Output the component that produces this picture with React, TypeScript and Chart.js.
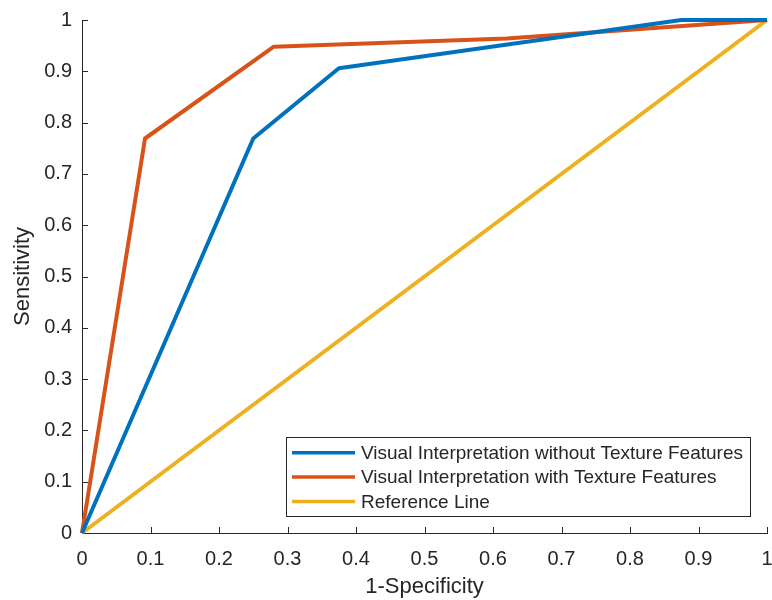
import React, { useEffect, useRef } from "react";
import { Chart, registerables } from "chart.js";

Chart.register(...registerables);

const seriesLabels = [
  "Visual Interpretation without Texture Features",
  "Visual Interpretation with Texture Features",
  "Reference Line",
];
const seriesColors = ["#0072BD", "#D95319", "#EDB120"];

const withoutX = [0, 0.25, 0.375, 0.875, 1];
const withoutY = [0, 0.769, 0.906, 1, 1];
const withX = [0, 0.092, 0.28, 0.62, 1];
const withY = [0, 0.769, 0.948, 0.964, 1];
const refX = [0, 1];
const refY = [0, 1];

const xTickValues = [0, 0.1, 0.2, 0.3, 0.4, 0.5, 0.6, 0.7, 0.8, 0.9, 1];
const xTickLabels = ["0", "0.1", "0.2", "0.3", "0.4", "0.5", "0.6", "0.7", "0.8", "0.9", "1"];
const yTickValues = [0, 0.1, 0.2, 0.3, 0.4, 0.5, 0.6, 0.7, 0.8, 0.9, 1];
const yTickLabels = ["0", "0.1", "0.2", "0.3", "0.4", "0.5", "0.6", "0.7", "0.8", "0.9", "1"];

const xTitle = "1-Specificity";
const yTitle = "Sensitivity";

const FONT = "'Liberation Sans', Arial, Helvetica, sans-serif";
const TEXT = "#262626";

const toPoints = (xs: number[], ys: number[]) => xs.map((x, i) => ({ x, y: ys[i] }));

const tickMarks = {
  id: "tickMarks",
  beforeDatasetsDraw(chart: any) {
    const { ctx, chartArea, scales } = chart;
    const len = 6;
    ctx.save();
    ctx.strokeStyle = TEXT;
    ctx.lineWidth = 1;
    ctx.beginPath();
    scales.x.ticks.forEach((t: any) => {
      const px = Math.round(scales.x.getPixelForValue(t.value)) + 0.5;
      ctx.moveTo(px, chartArea.bottom);
      ctx.lineTo(px, chartArea.bottom - len);
    });
    scales.y.ticks.forEach((t: any) => {
      const py = Math.round(scales.y.getPixelForValue(t.value)) + 0.5;
      ctx.moveTo(chartArea.left, py);
      ctx.lineTo(chartArea.left + len, py);
    });
    ctx.stroke();
    ctx.restore();
  },
};

const boxLegend = {
  id: "boxLegend",
  afterDraw(chart: any) {
    const { ctx, chartArea } = chart;
    const ds = chart.data.datasets;
    const fontSize = 19;
    const rowH = 24.4;
    const padL = 5.5;
    const lineLen = 63;
    const gap = 6;
    const padR = 8;
    ctx.save();
    ctx.font = `${fontSize}px ${FONT}`;
    let maxW = 0;
    ds.forEach((d: any) => {
      maxW = Math.max(maxW, ctx.measureText(d.label).width);
    });
    const w = padL + lineLen + gap + maxW + padR;
    const h = rowH * ds.length + 6;
    const right = chartArea.right - 17;
    const bottom = chartArea.bottom - 17;
    const left = Math.round(right - w) + 0.5;
    const top = Math.round(bottom - h) + 0.5;
    ctx.fillStyle = "#ffffff";
    ctx.fillRect(left, top, w, h);
    ctx.strokeStyle = TEXT;
    ctx.lineWidth = 1;
    ctx.strokeRect(left, top, Math.round(w), Math.round(h));
    ds.forEach((d: any, i: number) => {
      const cy = top + 3 + rowH * (i + 0.5);
      ctx.strokeStyle = d.borderColor;
      ctx.lineWidth = 3.5;
      ctx.beginPath();
      ctx.moveTo(left + padL, cy);
      ctx.lineTo(left + padL + lineLen, cy);
      ctx.stroke();
      ctx.fillStyle = TEXT;
      ctx.textBaseline = "middle";
      ctx.textAlign = "left";
      ctx.fillText(d.label, left + padL + lineLen + gap, cy + 1);
    });
    ctx.restore();
  },
};

export default function App() {
  const ref = useRef<HTMLCanvasElement | null>(null);

  useEffect(() => {
    if (!ref.current) return;
    const series = [
      toPoints(withoutX, withoutY),
      toPoints(withX, withY),
      toPoints(refX, refY),
    ];
    const chart = new Chart(ref.current, {
      type: "line",
      data: {
        datasets: series.map((pts, i) => ({
          label: seriesLabels[i],
          data: pts,
          borderColor: seriesColors[i],
          backgroundColor: seriesColors[i],
          borderWidth: 4,
          pointRadius: 0,
          tension: 0,
          fill: false,
          clip: false as any,
          borderJoinStyle: "round" as const,
        })),
      },
      options: {
        animation: false,
        responsive: false,
        parsing: false as any,
        layout: { padding: { top: 20, right: 5, left: 0, bottom: 0 } },
        plugins: {
          legend: { display: false },
          tooltip: { enabled: false },
        },
        scales: {
          x: {
            type: "linear",
            min: 0,
            max: 1,
            afterBuildTicks: (s: any) => {
              s.ticks = xTickValues.map((v) => ({ value: v }));
            },
            afterFit: (s: any) => {
              s.height = 67;
              s.paddingLeft = 0;
              s.paddingRight = 0;
            },
            grid: { display: false, drawTicks: false },
            border: { display: true, color: TEXT, width: 1 },
            ticks: {
              padding: 14,
              color: TEXT,
              font: { family: FONT, size: 20 },
              maxRotation: 0,
              autoSkip: false,
              callback: (_v: any, i: number) => xTickLabels[i],
            },
            title: {
              display: true,
              text: xTitle,
              color: TEXT,
              font: { family: FONT, size: 22, lineHeight: 1.2 },
              padding: { top: 0, bottom: 0 },
            },
          },
          y: {
            type: "linear",
            min: 0,
            max: 1,
            afterBuildTicks: (s: any) => {
              s.ticks = yTickValues.map((v) => ({ value: v }));
            },
            afterFit: (s: any) => {
              s.width = 82;
              s.paddingTop = 0;
              s.paddingBottom = 0;
            },
            grid: { display: false, drawTicks: false },
            border: { display: true, color: TEXT, width: 1 },
            ticks: {
              padding: 10,
              color: TEXT,
              font: { family: FONT, size: 20 },
              autoSkip: false,
              callback: (_v: any, i: number) => yTickLabels[i],
            },
            title: {
              display: true,
              text: yTitle,
              color: TEXT,
              font: { family: FONT, size: 22, lineHeight: 1.2 },
              padding: { top: 10, bottom: 0 },
            },
          },
        },
      },
      plugins: [tickMarks, boxLegend],
    });
    return () => chart.destroy();
  }, []);

  return (
    <div style={{ position: "fixed", left: 0, top: 0, width: 772, height: 600, background: "#fff" }}>
      <canvas ref={ref} width={772} height={600} style={{ display: "block" }} />
    </div>
  );
}
